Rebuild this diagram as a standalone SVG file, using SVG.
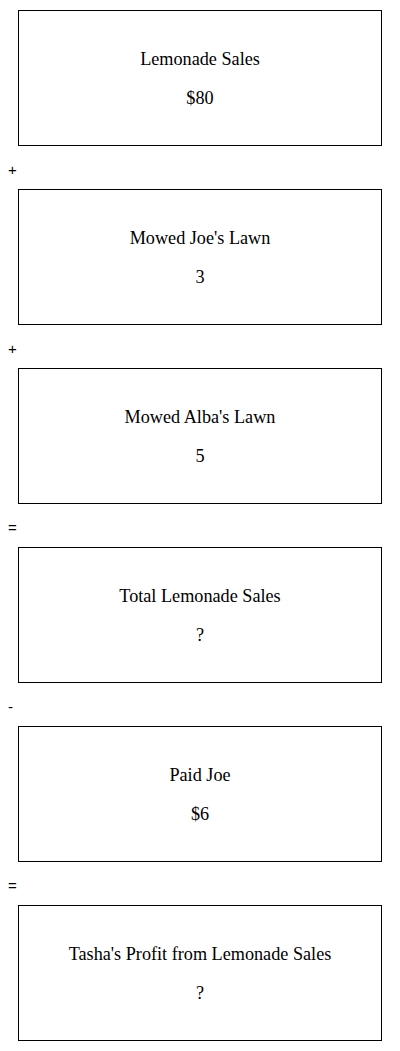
<svg xmlns="http://www.w3.org/2000/svg" width="400" height="1051" viewBox="0 0 400 1051">
<style>
.box{fill:#fff;stroke:#000;stroke-width:1}
.t{font-family:"Liberation Serif",serif;font-size:18.2px;fill:#000;text-anchor:middle}
.op{font-family:"Liberation Sans",Arial,sans-serif;font-size:15px;fill:#000}
</style>
<rect width="400" height="1051" fill="#fff"/>
<g id="n1"><rect class="box" x="18.5" y="10.5" width="363" height="135"/><text class="t" x="200" y="65">Lemonade Sales</text><text class="t" x="200" y="104">$80</text></g>
<g id="n2"><rect class="box" x="18.5" y="189.5" width="363" height="135"/><text class="t" x="200" y="244">Mowed Joe's Lawn</text><text class="t" x="200" y="283">3</text></g>
<g id="n3"><rect class="box" x="18.5" y="368.5" width="363" height="135"/><text class="t" x="200" y="423">Mowed Alba's Lawn</text><text class="t" x="200" y="462">5</text></g>
<g id="n4"><rect class="box" x="18.5" y="547.5" width="363" height="135"/><text class="t" x="200" y="602">Total Lemonade Sales</text><text class="t" x="200" y="641">?</text></g>
<g id="n5"><rect class="box" x="18.5" y="726.5" width="363" height="135"/><text class="t" x="200" y="781">Paid Joe</text><text class="t" x="200" y="820">$6</text></g>
<g id="n6"><rect class="box" x="18.5" y="905.5" width="363" height="135"/><text class="t" x="200" y="960">Tasha's Profit from Lemonade Sales</text><text class="t" x="200" y="999">?</text></g>
<g id="connectors">
<text class="op" x="8" y="175">+</text>
<text class="op" x="8" y="354">+</text>
<text class="op" x="8" y="533">=</text>
<text class="op" x="8" y="712">-</text>
<text class="op" x="8" y="891">=</text>
</g>
</svg>
